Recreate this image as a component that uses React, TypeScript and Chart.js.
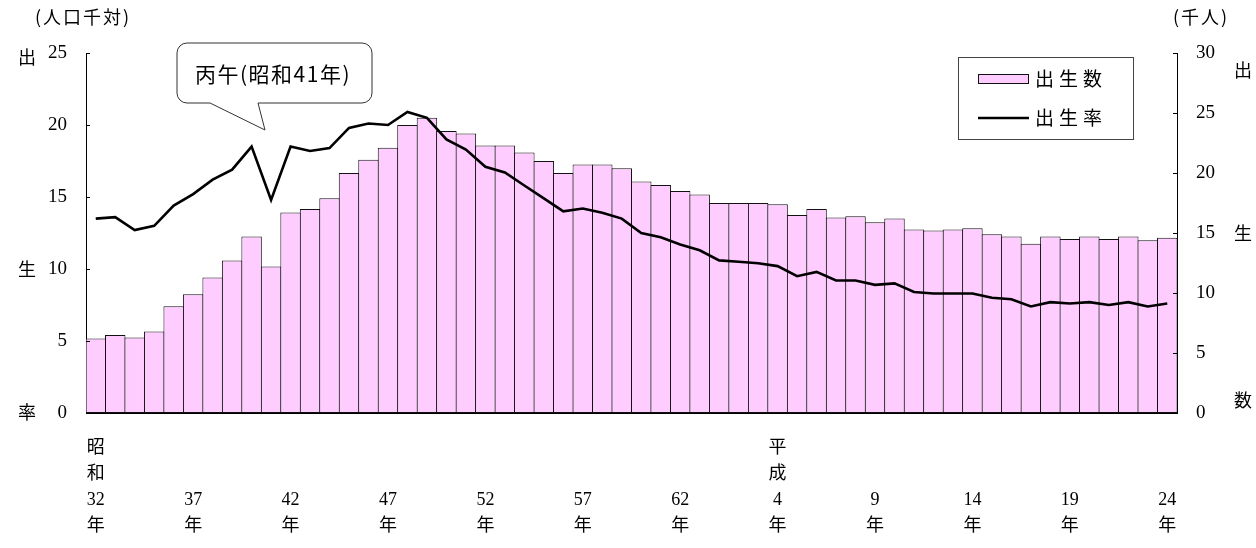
import React, { useEffect, useRef } from 'react';
import { Chart, registerables } from 'chart.js';

Chart.register(...registerables);

// ---- Data ----
const categories: string[] = [
  '昭和32年', '昭和33年', '昭和34年', '昭和35年', '昭和36年', '昭和37年', '昭和38年', '昭和39年',
  '昭和40年', '昭和41年', '昭和42年', '昭和43年', '昭和44年', '昭和45年', '昭和46年', '昭和47年',
  '昭和48年', '昭和49年', '昭和50年', '昭和51年', '昭和52年', '昭和53年', '昭和54年', '昭和55年',
  '昭和56年', '昭和57年', '昭和58年', '昭和59年', '昭和60年', '昭和61年', '昭和62年', '昭和63年',
  '平成1年', '平成2年', '平成3年', '平成4年', '平成5年', '平成6年', '平成7年', '平成8年',
  '平成9年', '平成10年', '平成11年', '平成12年', '平成13年', '平成14年', '平成15年', '平成16年',
  '平成17年', '平成18年', '平成19年', '平成20年', '平成21年', '平成22年', '平成23年', '平成24年',
];

// 出生数 (千人)
const birthCounts: number[] = [
  6.2, 6.5, 6.3, 6.8, 8.9, 9.9, 11.3, 12.7, 14.7, 12.2,
  16.7, 17.0, 17.9, 20.0, 21.1, 22.1, 24.0, 24.6, 23.5, 23.3,
  22.3, 22.3, 21.7, 21.0, 20.0, 20.7, 20.7, 20.4, 19.3, 19.0,
  18.5, 18.2, 17.5, 17.5, 17.5, 17.4, 16.5, 17.0, 16.3, 16.4,
  15.9, 16.2, 15.3, 15.2, 15.3, 15.4, 14.9, 14.7, 14.1, 14.7,
  14.5, 14.7, 14.5, 14.7, 14.4, 14.6,
];

// 出生率 (人口千対)
const birthRates: number[] = [
  13.5, 13.6, 12.7, 13.0, 14.4, 15.2, 16.2, 16.9, 18.5, 14.8,
  18.5, 18.2, 18.4, 19.8, 20.1, 20.0, 20.9, 20.5, 19.0, 18.3,
  17.1, 16.7, 15.8, 14.9, 14.0, 14.2, 13.9, 13.5, 12.5, 12.2,
  11.7, 11.3, 10.6, 10.5, 10.4, 10.2, 9.5, 9.8, 9.2, 9.2,
  8.9, 9.0, 8.4, 8.3, 8.3, 8.3, 8.0, 7.9, 7.4, 7.7,
  7.6, 7.7, 7.5, 7.7, 7.4, 7.6,
];

// x tick labels (vertical stacked lines)
const tickLabelLines: Record<string, string[]> = {
  '昭和32年': ['昭', '和', '32', '年'],
  '昭和37年': ['', '', '37', '年'],
  '昭和42年': ['', '', '42', '年'],
  '昭和47年': ['', '', '47', '年'],
  '昭和52年': ['', '', '52', '年'],
  '昭和57年': ['', '', '57', '年'],
  '昭和62年': ['', '', '62', '年'],
  '平成4年': ['平', '成', '4', '年'],
  '平成9年': ['', '', '9', '年'],
  '平成14年': ['', '', '14', '年'],
  '平成19年': ['', '', '19', '年'],
  '平成24年': ['', '', '24', '年'],
};

const leftTicks: number[] = [0, 5, 10, 15, 20, 25];
const rightTicks: number[] = [0, 5, 10, 15, 20, 25, 30];

const FONT = "'Liberation Serif', 'Noto Sans CJK JP', serif";
const CJK = "'Noto Sans CJK JP', 'Liberation Serif', serif";
const BAR_FILL = '#FFCCFF';
const BAR_BORDER = '#111111';

const overlayPlugin = {
  id: 'overlay',
  afterDraw(chart: any) {
    const ctx: CanvasRenderingContext2D = chart.ctx;
    const ca = chart.chartArea;
    const yL = chart.scales.y;
    const yR = chart.scales.y2;
    ctx.save();

    // inward tick marks
    ctx.strokeStyle = '#000';
    ctx.lineWidth = 1;
    ctx.beginPath();
    for (const v of leftTicks) {
      const py = Math.round(yL.getPixelForValue(v)) + 0.5;
      ctx.moveTo(ca.left, py);
      ctx.lineTo(ca.left + 4, py);
    }
    for (const v of rightTicks) {
      const py = Math.round(yR.getPixelForValue(v)) + 0.5;
      ctx.moveTo(ca.right - 4, py);
      ctx.lineTo(ca.right, py);
    }
    ctx.stroke();

    // unit titles
    ctx.fillStyle = '#000';
    ctx.textBaseline = 'middle';
    ctx.textAlign = 'center';
    ctx.font = `18px ${CJK}`;
    (ctx as any).letterSpacing = '2px';
    ctx.fillText('(人口千対)', 83, 17);
    ctx.fillText('(千人)', 1201, 17);

    // vertical axis titles
    (ctx as any).letterSpacing = '0px';
    const leftChars: [string, number][] = [['出', 57], ['生', 269], ['率', 412]];
    const rightChars: [string, number][] = [['出', 70], ['生', 233], ['数', 400]];
    for (const [c, y] of leftChars) ctx.fillText(c, 27, y);
    for (const [c, y] of rightChars) ctx.fillText(c, 1243, y);

    // callout
    const bx = 177, by = 43, bw = 195, bh = 60, r = 10;
    const tailL = 210, tailR = 258, tipX = 265, tipY = 130;
    ctx.beginPath();
    ctx.moveTo(bx + r, by);
    ctx.lineTo(bx + bw - r, by);
    ctx.arcTo(bx + bw, by, bx + bw, by + r, r);
    ctx.lineTo(bx + bw, by + bh - r);
    ctx.arcTo(bx + bw, by + bh, bx + bw - r, by + bh, r);
    ctx.lineTo(tailR, by + bh);
    ctx.lineTo(tipX, tipY);
    ctx.lineTo(tailL, by + bh);
    ctx.lineTo(bx + r, by + bh);
    ctx.arcTo(bx, by + bh, bx, by + bh - r, r);
    ctx.lineTo(bx, by + r);
    ctx.arcTo(bx, by, bx + r, by, r);
    ctx.closePath();
    ctx.fillStyle = '#fff';
    ctx.fill();
    ctx.strokeStyle = '#333';
    ctx.lineWidth = 1;
    ctx.stroke();
    ctx.fillStyle = '#000';
    ctx.font = `21px ${CJK}`;
    (ctx as any).letterSpacing = '1.5px';
    ctx.textAlign = 'center';
    ctx.fillText('丙午(昭和41年)', 273, 74);

    // legend
    const lx = 958, ly = 57, lw = 175, lh = 82;
    ctx.fillStyle = '#fff';
    ctx.fillRect(lx, ly, lw, lh);
    ctx.strokeStyle = '#444';
    ctx.lineWidth = 1;
    ctx.strokeRect(lx + 0.5, ly + 0.5, lw, lh);
    ctx.fillStyle = BAR_FILL;
    ctx.fillRect(978, 74, 51, 10);
    ctx.strokeStyle = BAR_BORDER;
    ctx.strokeRect(978.5, 74.5, 50, 9);
    ctx.beginPath();
    ctx.strokeStyle = '#000';
    ctx.lineWidth = 2.5;
    ctx.moveTo(978, 118);
    ctx.lineTo(1029, 118);
    ctx.stroke();
    ctx.fillStyle = '#000';
    ctx.textAlign = 'left';
    ctx.font = `19px ${CJK}`;
    (ctx as any).letterSpacing = '5px';
    ctx.fillText('出生数', 1035, 79);
    ctx.fillText('出生率', 1035, 118);
    ctx.restore();
  },
};

export default function App() {
  const canvasRef = useRef<HTMLCanvasElement | null>(null);

  useEffect(() => {
    if (!canvasRef.current) return;
    const chart = new Chart(canvasRef.current, {
      type: 'bar',
      data: {
        labels: categories,
        datasets: [
          {
            type: 'line',
            label: '出生率',
            data: birthRates,
            yAxisID: 'y',
            borderColor: '#000',
            borderWidth: 2.6,
            pointRadius: 0,
            tension: 0,
            fill: false,
            order: 0,
          } as any,
          {
            type: 'bar',
            label: '出生数',
            data: birthCounts,
            yAxisID: 'y2',
            backgroundColor: BAR_FILL,
            borderColor: BAR_BORDER,
            borderWidth: 1,
            borderSkipped: false,
            categoryPercentage: 1,
            barPercentage: 1.05,
            order: 1,
          } as any,
        ],
      },
      options: {
        responsive: false,
        animation: false,
        layout: { padding: { top: 53, left: 0, right: 0, bottom: 0 } },
        plugins: {
          legend: { display: false },
          tooltip: { enabled: false },
        },
        scales: {
          x: {
            offset: true,
            grid: { display: false },
            border: { display: true, color: '#000', width: 1 },
            ticks: {
              autoSkip: false,
              maxRotation: 0,
              minRotation: 0,
              padding: 14,
              color: '#000',
              font: { family: FONT, size: 18, lineHeight: 26 / 18 } as any,
              callback: function (this: any, _v: any, i: number) {
                const lab = categories[i];
                return tickLabelLines[lab] ?? '';
              },
            },
            afterFit: (s: any) => { s.height = 135; },
          },
          y: {
            position: 'left',
            min: 0,
            max: 25,
            grid: { display: false, drawTicks: false },
            border: { display: true, color: '#000', width: 1 },
            ticks: {
              stepSize: 5,
              padding: 19,
              color: '#000',
              font: { family: FONT, size: 19 },
            },
            afterFit: (s: any) => { s.width = 86; },
          },
          y2: {
            position: 'right',
            min: 0,
            max: 30,
            grid: { display: false, drawTicks: false },
            border: { display: true, color: '#000', width: 1 },
            ticks: {
              stepSize: 5,
              padding: 19,
              color: '#000',
              font: { family: FONT, size: 19 },
            },
            afterFit: (s: any) => { s.width = 79; },
          },
        },
      },
      plugins: [overlayPlugin],
    });
    return () => chart.destroy();
  }, []);

  return (
    <div style={{ position: 'absolute', left: 0, top: 0, width: 1256, height: 548, background: '#fff' }}>
      <canvas ref={canvasRef} width={1256} height={548} style={{ display: 'block' }} />
    </div>
  );
}
